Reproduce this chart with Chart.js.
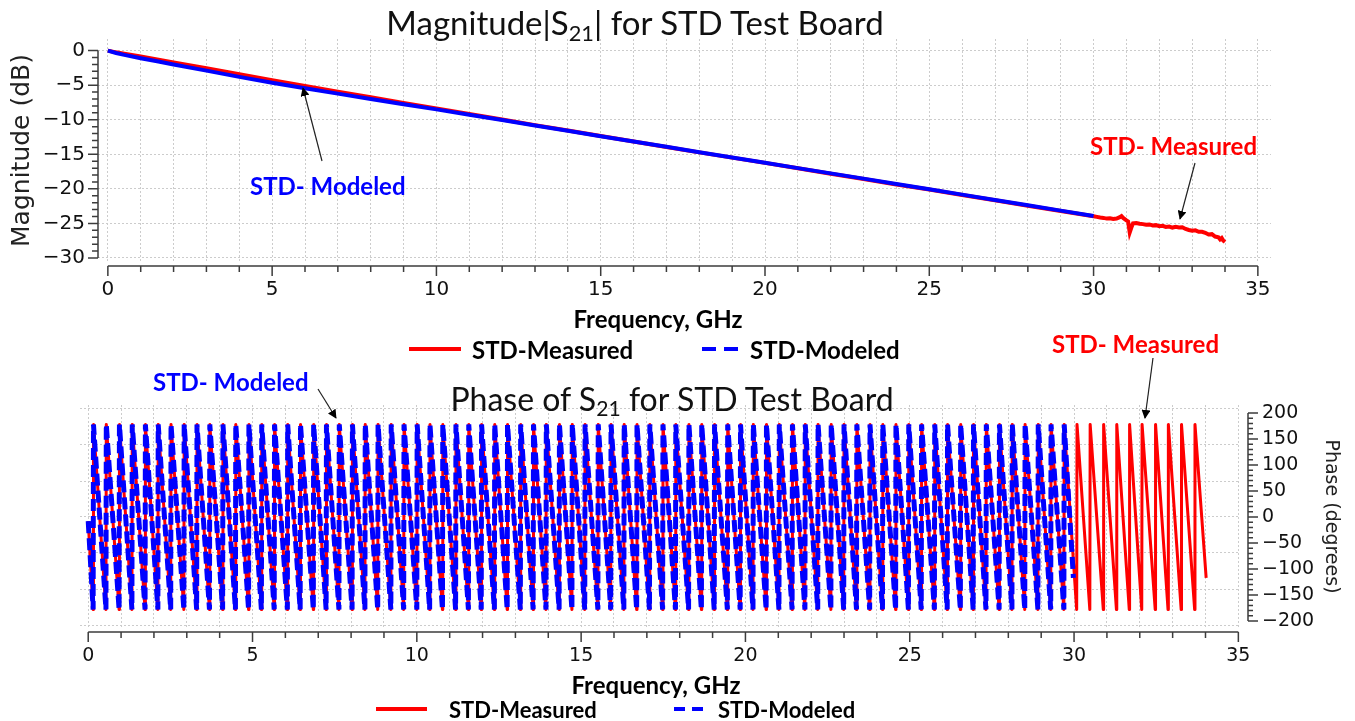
<!DOCTYPE html>
<html>
<head>
<meta charset="utf-8">
<script src="https://cdn.jsdelivr.net/npm/chart.js@4.4.0/dist/chart.umd.min.js"></script>
<style>
  html, body { margin: 0; padding: 0; background: #fff; overflow: hidden; }
  body { width: 1355px; height: 721px; position: relative; }
  canvas { position: absolute; left: 0; }
  #magChart { top: 0; }
  #phaseChart { top: 370px; }
  .title { position: absolute; font-family: Lato, sans-serif; color: #111; white-space: nowrap; transform: translate(-50%, -50%); }
  .title sub { font-size: 0.66em; vertical-align: -0.28em; line-height: 0; }
  .axt { position: absolute; font-family: Lato, sans-serif; font-weight: bold; font-size: 24px; color: #000; white-space: nowrap; transform: translate(-50%, -50%); }
  .note { position: absolute; font-family: Lato, sans-serif; font-weight: bold; font-size: 24px; white-space: nowrap; transform: translateY(-50%); }
  .leg { position: absolute; font-family: Lato, sans-serif; font-weight: bold; color: #000; white-space: nowrap; transform: translateY(-50%); }
  svg { position: absolute; left: 0; top: 0; pointer-events: none; }
</style>
</head>
<body>
<canvas id="magChart" width="1355" height="340"></canvas>
<canvas id="phaseChart" width="1355" height="351"></canvas>

<div class="title" style="left:635px; top:22px; font-size:33px;">Magnitude|S<sub>21</sub>| for STD Test Board</div>
<div class="title" style="left:672px; top:398px; font-size:32px;">Phase of S<sub>21</sub> for STD Test Board</div>

<div class="axt" style="left:658px; top:318px;">Frequency, GHz</div>
<div class="axt" style="left:656px; top:684px;">Frequency, GHz</div>

<div class="note" style="left:250px; top:185px; color:#0000ff;">STD- Modeled</div>
<div class="note" style="left:1090px; top:145px; color:#ff0000;">STD- Measured</div>
<div class="note" style="left:153px; top:381px; color:#0000ff;">STD- Modeled</div>
<div class="note" style="left:1052px; top:343px; color:#ff0000;">STD- Measured</div>

<div class="leg" style="left:472px; top:349px; font-size:24px;">STD-Measured</div>
<div class="leg" style="left:750px; top:349px; font-size:24px;">STD-Modeled</div>
<div class="leg" style="left:449px; top:709px; font-size:22px;">STD-Measured</div>
<div class="leg" style="left:718px; top:709px; font-size:22px;">STD-Modeled</div>

<svg width="1355" height="721">
  <defs>
    <marker id="head" viewBox="0 0 10 10" refX="9" refY="5" markerWidth="9" markerHeight="9" orient="auto" markerUnits="userSpaceOnUse">
      <path d="M0,0 L10,5 L0,10 z" fill="#000"/>
    </marker>
  </defs>
  <line x1="322" y1="161" x2="303" y2="88" stroke="#222" stroke-width="1.2" marker-end="url(#head)"/>
  <line x1="1195" y1="163" x2="1180" y2="219" stroke="#222" stroke-width="1.2" marker-end="url(#head)"/>
  <line x1="318" y1="389" x2="336" y2="418" stroke="#222" stroke-width="1.2" marker-end="url(#head)"/>
  <line x1="1153" y1="358" x2="1145" y2="418" stroke="#222" stroke-width="1.2" marker-end="url(#head)"/>
  <line x1="409" y1="349" x2="461" y2="349" stroke="#ff0000" stroke-width="4"/>
  <line x1="702" y1="349" x2="738" y2="349" stroke="#0000ff" stroke-width="4" stroke-dasharray="14 8"/>
  <line x1="376" y1="709" x2="427" y2="709" stroke="#ff0000" stroke-width="4"/>
  <line x1="674" y1="709" x2="703" y2="709" stroke="#0000ff" stroke-width="4" stroke-dasharray="11 7"/>
</svg>

<script>
// magnitude |S21| in dB
const magFreqModeled = [0, 0.25, 0.5, 1, 1.5, 2, 3, 4, 5, 6, 7, 8, 9, 10, 11, 12, 13, 14, 15,
  16, 17, 18, 19, 20, 21, 22, 23, 24, 25, 26, 27, 28, 29, 30];
const magModeled = [0, -0.35, -0.62, -1.1, -1.55, -2.0, -2.9, -3.8, -4.65, -5.45, -6.22, -7.0, -7.75, -8.5,
  -9.28, -10.05, -10.82, -11.6, -12.38, -13.15, -13.92, -14.7, -15.45, -16.22, -17.0, -17.76, -18.52,
  -19.3, -20.06, -20.83, -21.6, -22.38, -23.15, -23.92];

const magFreqMeasured = [0, 0.25, 0.5, 1, 1.5, 2, 3, 4, 5, 6, 7, 8, 9, 10, 11, 12, 13, 14, 15,
  16, 17, 18, 19, 20, 21, 22, 23, 24, 25, 26, 27, 28, 29, 30,
  30.1, 30.2, 30.3, 30.4, 30.5, 30.6, 30.7, 30.8, 30.85, 30.9, 31.0, 31.05, 31.1, 31.15, 31.2, 31.3,
  31.4, 31.5, 31.6, 31.7, 31.8, 31.9, 32.0, 32.1, 32.2, 32.3, 32.4, 32.5, 32.6, 32.7, 32.8, 32.9,
  33.0, 33.1, 33.2, 33.3, 33.4, 33.5, 33.6, 33.7, 33.8, 33.85, 33.9, 33.95, 34.0];
const magMeasured = [0, -0.25, -0.45, -0.85, -1.28, -1.7, -2.55, -3.4, -4.28, -5.12, -5.95, -6.76, -7.56,
  -8.36, -9.16, -9.97, -10.78, -11.57, -12.36, -13.15, -13.93, -14.72, -15.48, -16.24, -17.02, -17.8,
  -18.56, -19.36, -20.1, -20.88, -21.66, -22.44, -23.2, -23.95,
  -24.05, -24.15, -24.2, -24.3, -24.25, -24.35, -24.3, -24.1, -23.95, -24.2, -24.55, -24.7, -26.3, -25.6,
  -25.0, -24.95, -25.05, -25.1, -25.2, -25.15, -25.3, -25.25, -25.4, -25.35, -25.5, -25.45, -25.6, -25.5,
  -25.6, -25.55, -25.8, -25.95, -26.05, -26.0, -26.2, -26.2, -26.35, -26.6, -26.55, -26.9, -27.0, -27.3,
  -27.1, -27.5, -27.7];

// phase of S21: frequencies (GHz) where the wrapped phase jumps from -180 back to +180
const phaseWrapFreqs = [0.16, 0.55, 0.95, 1.34, 1.74, 2.13, 2.52, 2.92, 3.31, 3.70, 4.10, 4.49, 4.89,
  5.28, 5.67, 6.07, 6.46, 6.86, 7.25, 7.64, 8.04, 8.43, 8.82, 9.22, 9.61, 10.01, 10.40, 10.79, 11.19,
  11.58, 11.97, 12.37, 12.76, 13.16, 13.55, 13.94, 14.34, 14.73, 15.12, 15.52, 15.91, 16.31, 16.70,
  17.09, 17.49, 17.88, 18.28, 18.67, 19.06, 19.46, 19.85, 20.24, 20.64, 21.03, 21.43, 21.82, 22.21,
  22.61, 23.00, 23.39, 23.79, 24.18, 24.58, 24.97, 25.36, 25.76, 26.15, 26.55, 26.94, 27.33, 27.73,
  28.12, 28.51, 28.91, 29.30, 29.70,
  30.09, 30.49, 30.90, 31.30, 31.69, 32.07, 32.48, 32.87, 33.27, 33.68];
const phaseTop = 178;
const phaseBottom = -178;
const phaseModeledStart = [0, -8];
const phaseModeledEnd = [29.98, -117];
const phaseMeasuredStart = [0, -8];
const phaseMeasuredEnd = [34.02, -117];

// axes
const freqTicks = [0, 5, 10, 15, 20, 25, 30, 35];
const magTicks = [-30, -25, -20, -15, -10, -5, 0];
const phaseTicks = [-200, -150, -100, -50, 0, 50, 100, 150, 200];
const phaseGridLines = [-208, -139, -69, 0, 69, 139, 209];
const freqGrid = Array.from({length: 36}, (_, i) => i);

const minus = v => v < 0 ? '\u2212' + Math.abs(v) : String(v);
const zip = (xs, ys) => xs.map((x, i) => ({x: x, y: ys[i]}));

function phasePoints(start, end) {
  const pts = [{x: start[0], y: start[1]}];
  phaseWrapFreqs.filter(f => f < end[0]).forEach(f => {
    pts.push({x: f - 0.01, y: phaseBottom});
    pts.push({x: f, y: phaseTop});
  });
  pts.push({x: end[0], y: end[1]});
  return pts;
}

// axis lines drawn a little away from the plot, with major and minor ticks
const offsetAxes = {
  id: 'offsetAxes',
  afterDraw(chart, args, opts) {
    const ctx = chart.ctx, a = chart.chartArea;
    ctx.save();
    ctx.strokeStyle = '#3c3c3c';
    ctx.lineWidth = 1.5;
    opts.lines.forEach(o => {
      const s = chart.scales[o.scale];
      const horiz = s.isHorizontal();
      const at = a[o.edge] + o.offset;
      const p0 = s.getPixelForValue(o.from), p1 = s.getPixelForValue(o.to);
      ctx.beginPath();
      if (horiz) { ctx.moveTo(p0, at); ctx.lineTo(p1, at); }
      else { ctx.moveTo(at, p0); ctx.lineTo(at, p1); }
      for (let v = o.from; v <= o.to + 1e-9; v += o.minor) {
        const major = Math.abs(v / o.major - Math.round(v / o.major)) < 1e-6;
        const len = (major ? o.majorLen : o.minorLen) * o.dir;
        const p = s.getPixelForValue(v);
        if (horiz) { ctx.moveTo(p, at); ctx.lineTo(p, at + len); }
        else { ctx.moveTo(at, p); ctx.lineTo(at + len, p); }
      }
      ctx.stroke();
    });
    ctx.restore();
  }
};

const gridStyle = {color: '#cccccc', lineWidth: 1, drawTicks: false};
const gridBorder = {display: false, dash: [2, 2]};

new Chart(document.getElementById('magChart'), {
  type: 'line',
  data: {
    datasets: [
      {label: 'STD-Modeled', data: zip(magFreqModeled, magModeled), borderColor: '#0000ff',
       borderWidth: 4, pointRadius: 0, order: 0},
      {label: 'STD-Measured', data: zip(magFreqMeasured, magMeasured), borderColor: '#ff0000',
       borderWidth: 4, pointRadius: 0, order: 1}
    ]
  },
  options: {
    responsive: false,
    animation: false,
    devicePixelRatio: 1,
    layout: {padding: {top: 39, right: 84, bottom: 8, left: 0}},
    plugins: {
      legend: {display: false},
      tooltip: {enabled: false},
      offsetAxes: {lines: [
        {scale: 'x', edge: 'bottom', offset: 4, from: 0, to: 35, minor: 1, major: 5, majorLen: 10, minorLen: 6, dir: 1},
        {scale: 'y', edge: 'left', offset: 0, from: -30, to: 0, minor: 1, major: 5, majorLen: 10, minorLen: 6, dir: -1}
      ]}
    },
    scales: {
      x: {
        type: 'linear', min: -0.3, max: 35.4,
        afterBuildTicks: s => { s.ticks = freqGrid.map(v => ({value: v})); },
        afterFit: s => { s.height = 70; },
        grid: gridStyle, border: gridBorder,
        ticks: {autoSkip: false, maxRotation: 0, padding: 16, font: {family: 'DejaVu Sans', size: 20}, color: '#111',
                callback: v => freqTicks.includes(v) ? String(v) : ''}
      },
      y: {
        type: 'linear', min: -30.58, max: 1.68,
        afterBuildTicks: s => { s.ticks = magTicks.map(v => ({value: v})); },
        afterFit: s => { s.width = 98; },
        grid: gridStyle, border: gridBorder,
        ticks: {padding: 13, font: {family: 'DejaVu Sans', size: 20}, color: '#111', callback: v => minus(v)},
        title: {display: true, text: 'Magnitude (dB)', color: '#222', padding: {top: 7, bottom: 0},
                font: {family: 'DejaVu Sans', size: 25}}
      }
    }
  },
  plugins: [offsetAxes]
});

new Chart(document.getElementById('phaseChart'), {
  type: 'line',
  data: {
    datasets: [
      {label: 'STD-Modeled', data: phasePoints(phaseModeledStart, phaseModeledEnd), borderColor: '#0000ff',
       borderWidth: 5, borderDash: [12, 5], pointRadius: 0, order: 0},
      {label: 'STD-Measured', data: phasePoints(phaseMeasuredStart, phaseMeasuredEnd), borderColor: '#ff0000',
       borderWidth: 3, borderJoinStyle: 'round', pointRadius: 0, order: 1}
    ]
  },
  options: {
    responsive: false,
    animation: false,
    devicePixelRatio: 1,
    layout: {padding: {top: 35, right: 0, bottom: 23, left: 80}},
    plugins: {
      legend: {display: false},
      tooltip: {enabled: false},
      offsetAxes: {lines: [
        {scale: 'x', edge: 'bottom', offset: 4, from: 0, to: 35, minor: 1, major: 5, majorLen: 10, minorLen: 6, dir: 1},
        {scale: 'y', edge: 'right', offset: 8, from: -200, to: 200, minor: 10, major: 50, majorLen: 10, minorLen: 5, dir: 1}
      ]}
    },
    scales: {
      x: {
        type: 'linear', min: -0.25, max: 35.05,
        afterBuildTicks: s => { s.ticks = freqGrid.map(v => ({value: v})); },
        afterFit: s => { s.height = 70; },
        grid: gridStyle, border: gridBorder,
        ticks: {autoSkip: false, maxRotation: 0, padding: 17, font: {family: 'DejaVu Sans', size: 19}, color: '#111',
                callback: v => freqTicks.includes(v) ? String(v) : ''}
      },
      yg: {
        type: 'linear', position: 'right', min: -213.5, max: 215.4,
        afterBuildTicks: s => { s.ticks = phaseGridLines.map(v => ({value: v})); },
        afterFit: s => { s.width = 0; },
        grid: gridStyle, border: gridBorder,
        ticks: {display: false}
      },
      y: {
        type: 'linear', position: 'right', min: -213.5, max: 215.4,
        afterBuildTicks: s => { s.ticks = phaseTicks.map(v => ({value: v})); },
        afterFit: s => { s.width = 115; },
        grid: {display: false, drawTicks: false}, border: {display: false},
        ticks: {padding: 22, font: {family: 'DejaVu Sans', size: 19}, color: '#111', callback: v => minus(v)},
        title: {display: true, text: 'Phase (degrees)', color: '#222', padding: {top: 13, bottom: 0},
                font: {family: 'DejaVu Sans', size: 19}}
      }
    }
  },
  plugins: [offsetAxes]
});
</script>
</body>
</html>
